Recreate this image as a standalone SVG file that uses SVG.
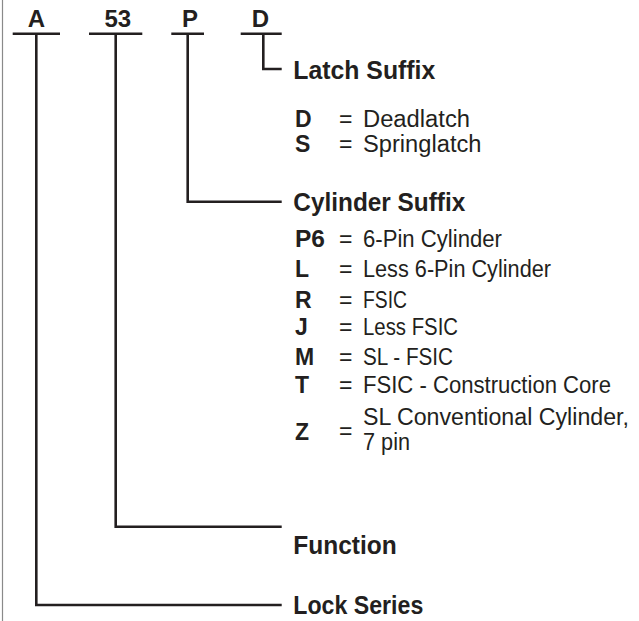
<svg xmlns="http://www.w3.org/2000/svg" width="639" height="621" viewBox="0 0 639 621">
<style>
text{font-family:"Liberation Sans","DejaVu Sans",sans-serif;fill:#231f20}
.hd{font-size:24px;font-weight:bold;text-anchor:middle}
.ttl{font-size:25px;font-weight:bold}
.k{font-size:23px;font-weight:bold}
.v{font-size:23px}
.ln{stroke:#231f20;stroke-width:2.6;fill:none;stroke-linecap:butt}
</style>
<rect width="639" height="621" fill="#fff"/>
<line x1="2.5" y1="0" x2="2.5" y2="621" stroke="#8a8a8a" stroke-width="1.2"/>
<g id="code">
<text class="hd" x="36.3" y="27">A</text>
<text class="hd" x="117.8" y="27">53</text>
<text class="hd" x="190" y="27">P</text>
<text class="hd" x="260.3" y="27">D</text>
</g>
<g id="connectors">
<path class="ln" d="M12.7 33.7H60M89 33.7H142.3M171.3 33.7H204M240.7 33.7H281.7"/>
<path class="ln" d="M263.3 33.7V69H281.7"/>
<path class="ln" d="M187.7 33.7V201.7H281.7"/>
<path class="ln" d="M115.7 33.7V526.7H281.7"/>
<path class="ln" d="M36.3 33.7V605H281.7"/>
</g>
<g id="latch">
<text class="ttl" x="293.3" y="79" textLength="142" lengthAdjust="spacingAndGlyphs">Latch Suffix</text>
<text class="k" x="295" y="127">D</text><text class="v" x="339" y="127">=</text><text class="v" x="363" y="127" textLength="107" lengthAdjust="spacingAndGlyphs">Deadlatch</text>
<text class="k" x="295" y="151.5">S</text><text class="v" x="339" y="151.5">=</text><text class="v" x="363" y="151.5" textLength="118.5" lengthAdjust="spacingAndGlyphs">Springlatch</text>
</g>
<g id="cylinder">
<text class="ttl" x="293.3" y="211" textLength="172" lengthAdjust="spacingAndGlyphs">Cylinder Suffix</text>
<text class="k" x="295" y="246.5" textLength="30" lengthAdjust="spacingAndGlyphs">P6</text><text class="v" x="339" y="246.5">=</text><text class="v" x="363" y="246.5" textLength="139" lengthAdjust="spacingAndGlyphs">6-Pin Cylinder</text>
<text class="k" x="295" y="276.5">L</text><text class="v" x="339" y="276.5">=</text><text class="v" x="363" y="276.5" textLength="188" lengthAdjust="spacingAndGlyphs">Less 6-Pin Cylinder</text>
<text class="k" x="295" y="307.5">R</text><text class="v" x="339" y="307.5">=</text><text class="v" x="363" y="307.5" textLength="44" lengthAdjust="spacingAndGlyphs">FSIC</text>
<text class="k" x="295" y="335">J</text><text class="v" x="339" y="335">=</text><text class="v" x="363" y="335" textLength="95" lengthAdjust="spacingAndGlyphs">Less FSIC</text>
<text class="k" x="295" y="364.5">M</text><text class="v" x="339" y="364.5">=</text><text class="v" x="363" y="364.5" textLength="90" lengthAdjust="spacingAndGlyphs">SL - FSIC</text>
<text class="k" x="295" y="393">T</text><text class="v" x="339" y="393">=</text><text class="v" x="363" y="393" textLength="248" lengthAdjust="spacingAndGlyphs">FSIC - Construction Core</text>
<text class="k" x="295" y="440">Z</text><text class="v" x="339" y="439">=</text>
<text class="v" x="363" y="425" textLength="266" lengthAdjust="spacingAndGlyphs">SL Conventional Cylinder,</text>
<text class="v" x="363" y="450" textLength="47" lengthAdjust="spacingAndGlyphs">7 pin</text>
</g>
<g id="function">
<text class="ttl" x="293.3" y="554" textLength="103.5" lengthAdjust="spacingAndGlyphs">Function</text>
</g>
<g id="series">
<text class="ttl" x="293.3" y="614" textLength="130" lengthAdjust="spacingAndGlyphs">Lock Series</text>
</g>
</svg>
